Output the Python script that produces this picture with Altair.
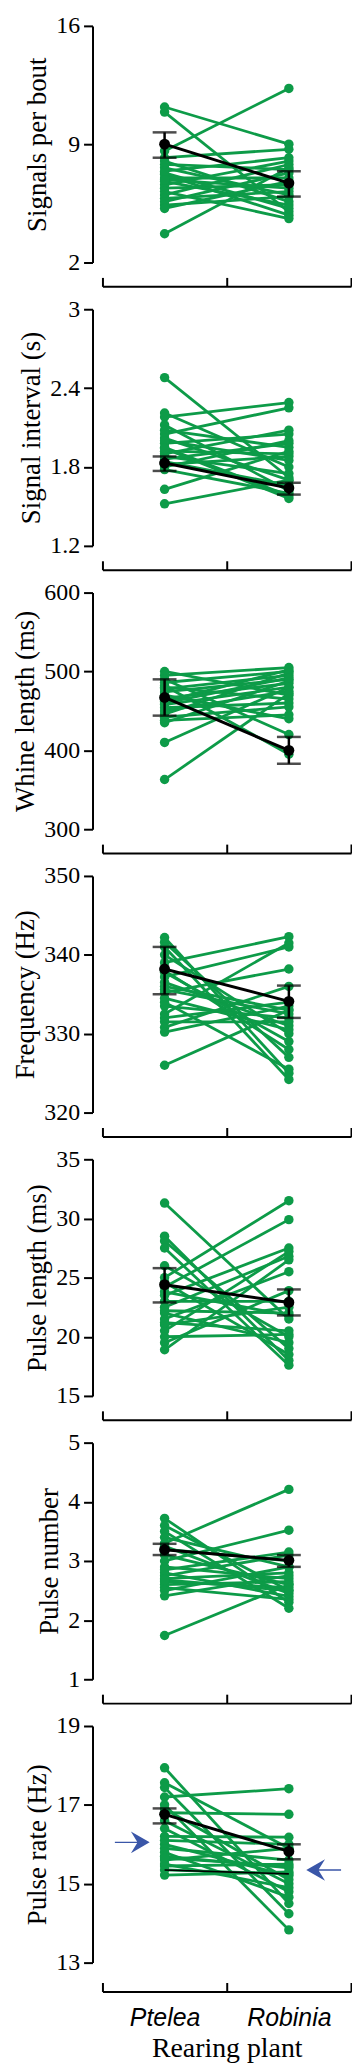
import altair as alt
import pandas as pd

GREEN = "#0d9b48"
BLUE = "#3a56a8"
PLANT_X = [0.5, 1.5]
PLANT_NAMES = ["Ptelea", "Robinia"]
X_TICKS = [0, 1, 2]

# ---- Panel 1: Signals per bout
p1_pt = [11.2, 10.9, 8.6, 8.2, 8.0, 7.8, 7.6, 7.4, 7.2, 7.0, 6.8, 6.6, 6.4, 6.2, 6.0, 5.8, 5.6, 5.4, 5.2, 3.7, 7.3, 6.9]
p1_rb = [9.0, 5.0, 12.3, 8.7, 5.6, 7.5, 6.0, 8.2, 4.8, 7.0, 5.4, 8.0, 6.6, 4.6, 7.8, 6.2, 7.3, 5.9, 6.8, 7.6, 5.2, 6.4]
p1_mean = [9.0, 6.7]
p1_lo = [8.2, 5.9]
p1_hi = [9.7, 7.4]

# ---- Panel 2: Signal interval (s)
p2_pt = [2.48, 2.21, 2.18, 2.12, 2.08, 2.05, 2.02, 1.98, 1.95, 1.92, 1.90, 1.88, 1.86, 1.84, 1.82, 1.80, 1.78, 1.63, 1.52, 2.00, 1.94]
p2_rb = [1.72, 1.80, 2.29, 1.62, 1.95, 2.25, 1.70, 2.05, 1.58, 1.90, 2.08, 1.75, 1.98, 1.66, 1.88, 2.00, 1.60, 1.92, 1.70, 1.85, 1.56]
p2_mean = [1.83, 1.64]
p2_lo = [1.77, 1.59]
p2_hi = [1.88, 1.68]

# ---- Panel 3: Whine length (ms)
p3_pt = [500, 495, 490, 486, 482, 478, 474, 470, 466, 462, 458, 454, 450, 446, 442, 438, 435, 410, 363, 480, 460]
p3_rb = [470, 505, 420, 500, 395, 495, 490, 440, 485, 502, 480, 460, 475, 498, 455, 445, 488, 480, 472, 465, 492]
p3_mean = [467, 400]
p3_lo = [444, 383]
p3_hi = [490, 417]

# ---- Panel 4: Frequency (Hz)
p4_pt = [342.2, 341.6, 341.0, 340.0, 339.0, 338.0, 337.2, 336.5, 336.0, 335.2, 334.5, 334.0, 333.5, 332.5, 332.0, 331.5, 330.8, 330.2, 326.0, 337.8, 335.6]
p4_rb = [325.0, 327.0, 324.2, 330.0, 342.3, 328.0, 341.0, 331.0, 333.0, 338.2, 330.5, 325.5, 332.0, 341.5, 334.0, 331.5, 336.0, 333.5, 333.0, 329.0, 332.5]
p4_mean = [338.2, 334.1]
p4_lo = [335.0, 332.0]
p4_hi = [341.0, 336.1]

# ---- Panel 5: Pulse length (ms)
p5_pt = [31.3, 28.5, 28.1, 27.5, 26.0, 25.0, 24.2, 23.5, 23.0, 22.5, 22.0, 21.5, 21.0, 20.5, 20.0, 19.5, 18.9, 24.6, 23.8, 22.2, 21.2]
p5_rb = [21.5, 18.0, 19.0, 17.6, 20.0, 31.5, 29.9, 27.5, 23.0, 26.8, 19.5, 25.5, 22.5, 27.2, 20.2, 23.9, 26.5, 18.5, 21.8, 22.0, 20.5]
p5_mean = [24.4, 22.9]
p5_lo = [22.9, 21.8]
p5_hi = [25.8, 24.0]

# ---- Panel 6: Pulse number
p6_pt = [3.72, 3.6, 3.5, 3.4, 3.3, 3.2, 3.1, 3.0, 2.9, 2.8, 2.75, 2.7, 2.65, 2.6, 2.55, 2.5, 2.41, 1.74, 3.25, 2.85, 2.68]
p6_rb = [2.3, 2.5, 2.2, 2.9, 4.21, 3.0, 2.6, 3.52, 2.7, 2.4, 3.1, 2.8, 2.55, 2.65, 2.35, 2.9, 2.75, 2.6, 2.45, 3.15, 2.5]
p6_mean = [3.19, 3.01]
p6_lo = [3.10, 2.90]
p6_hi = [3.29, 3.10]

# ---- Panel 7: Pulse rate (Hz)
p7_pt = [17.94, 17.56, 17.44, 17.2, 17.0, 16.8, 16.6, 16.4, 16.2, 16.0, 15.9, 15.8, 15.7, 15.6, 15.5, 15.45, 15.35, 15.22, 16.9, 16.1, 15.65]
p7_rb = [14.5, 15.9, 14.24, 17.41, 13.83, 16.76, 15.0, 14.8, 16.18, 15.2, 15.6, 14.66, 15.4, 15.9, 14.9, 15.5, 15.25, 15.3, 15.1, 16.0, 15.45]
p7_mean = [16.76, 15.82]
p7_lo = [16.53, 15.62]
p7_hi = [16.91, 16.0]
p7_black_pair = 16
arrow_x = [0.24, 1.78]
arrow_y = [16.05, 15.35]
arrow_angle = [0, 180]

panels = [
    dict(title="Signals per bout", pt=p1_pt, rb=p1_rb, mean=p1_mean, lo=p1_lo, hi=p1_hi, dom=[2, 16], ticks=[2, 9, 16], fmt="d"),
    dict(title="Signal interval (s)", pt=p2_pt, rb=p2_rb, mean=p2_mean, lo=p2_lo, hi=p2_hi, dom=[1.2, 3], ticks=[1.2, 1.8, 2.4, 3], fmt=".1~f"),
    dict(title="Whine length (ms)", pt=p3_pt, rb=p3_rb, mean=p3_mean, lo=p3_lo, hi=p3_hi, dom=[300, 600], ticks=[300, 400, 500, 600], fmt="d"),
    dict(title="Frequency (Hz)", pt=p4_pt, rb=p4_rb, mean=p4_mean, lo=p4_lo, hi=p4_hi, dom=[320, 350], ticks=[320, 330, 340, 350], fmt="d"),
    dict(title="Pulse length (ms)", pt=p5_pt, rb=p5_rb, mean=p5_mean, lo=p5_lo, hi=p5_hi, dom=[15, 35], ticks=[15, 20, 25, 30, 35], fmt="d"),
    dict(title="Pulse number", pt=p6_pt, rb=p6_rb, mean=p6_mean, lo=p6_lo, hi=p6_hi, dom=[1, 5], ticks=[1, 2, 3, 4, 5], fmt="d"),
    dict(title="Pulse rate (Hz)", pt=p7_pt, rb=p7_rb, mean=p7_mean, lo=p7_lo, hi=p7_hi, dom=[13, 19], ticks=[13, 15, 17, 19], fmt="d"),
]

W = 250
H = 238
ARROW_PATH = "M-1,-0.04 L0.28,-0.04 L-0.08,-0.62 L1,0 L-0.08,0.62 L0.28,0.04 L-1,0.04 Z"


def make_panel(p, last=False):
    n = len(p["pt"])
    rows = []
    for i in range(n):
        rows.append({"id": i, "x": PLANT_X[0], "v": p["pt"][i]})
        rows.append({"id": i, "x": PLANT_X[1], "v": p["rb"][i]})
    df = pd.DataFrame(rows)
    mdf = pd.DataFrame({"x": PLANT_X, "v": p["mean"], "lo": p["lo"], "hi": p["hi"]})

    xs = alt.Scale(domain=[0, 2], nice=False, zero=False)
    ys = alt.Scale(domain=p["dom"], nice=False, zero=False)
    yax = alt.Axis(values=p["ticks"], format=p["fmt"], title=p["title"], orient="left",
                   offset=10, tickSize=9, labelPadding=4, titlePadding=4)
    off = 29 if last else 24
    xax_top = alt.Axis(orient="top", offset=-(H + off), values=X_TICKS, labels=False,
                       title=None, tickSize=9)
    default_x_axis = None if last else xax_top

    def Y(field="v"):
        return alt.Y(f"{field}:Q", scale=ys, axis=yax)

    def X(axis="default"):
        if axis == "default":
            axis = default_x_axis
        return alt.X("x:Q", scale=xs, axis=axis)

    base = alt.Chart(df)
    lines = base.mark_line(color=GREEN, strokeWidth=2.8).encode(x=X(xax_top), y=Y(), detail="id:N")
    if last:
        ptsax = alt.Axis(orient="bottom", offset=off, values=PLANT_X, domain=False, ticks=False,
                         labelExpr="datum.value < 1 ? 'Ptelea' : 'Robinia'",
                         labelFont="Liberation Sans", labelFontStyle="italic", labelFontSize=25,
                         labelPadding=14, title="Rearing plant", titleFontSize=28, titlePadding=4)
        pts = base.mark_circle(color=GREEN, size=90, opacity=1).encode(x=X(ptsax), y=Y())
    else:
        pts = base.mark_circle(color=GREEN, size=90, opacity=1).encode(x=X(), y=Y())
    layers = [lines, pts]
    if last:
        blk = base.transform_filter(alt.datum.id == p7_black_pair).mark_line(
            color="black", strokeWidth=1.6).encode(x=X(), y=Y(), detail="id:N")
        layers.append(blk)

    mbase = alt.Chart(mdf)
    mline = mbase.mark_line(color="black", strokeWidth=3).encode(x=X(), y=Y())
    rule = mbase.mark_rule(color="black", strokeWidth=2.5).encode(x=X(), y=Y("lo"), y2="hi:Q")
    caps = mbase.transform_fold(["lo", "hi"], as_=["k", "c"]).mark_tick(
        color="black", thickness=2.5, size=24, orient="horizontal").encode(x=X(), y=Y("c"))
    mpts = mbase.mark_circle(color="black", size=120, opacity=1).encode(x=X(), y=Y())
    layers += [mline, rule, caps, mpts]

    if last:
        adf = pd.DataFrame({"x": arrow_x, "v": arrow_y, "a": arrow_angle})
        arrows = alt.Chart(adf).mark_point(shape=ARROW_PATH, filled=True, color=BLUE, size=1225,
                                           opacity=1, strokeWidth=0).encode(
            x=X(), y=Y(), angle=alt.Angle("a:Q", scale=None))
        layers.append(arrows)

    ch = alt.layer(*layers).properties(width=W, height=H)
    if last:
        ch = ch.resolve_axis(x="independent")
    return ch


charts = [make_panel(p, last=(i == len(panels) - 1)) for i, p in enumerate(panels)]

chart = alt.vconcat(*charts, spacing=47, bounds="flush").properties(
    padding={"left": 4, "top": 0, "right": 0, "bottom": 0}
).configure_view(stroke=None).configure_axis(
    grid=False,
    labelFont="Liberation Serif", labelFontSize=24, labelColor="black",
    titleFont="Liberation Serif", titleFontSize=27, titleFontWeight="normal", titleColor="black",
    domainColor="black", domainWidth=2, tickColor="black", tickWidth=2,
)

chart.save("out.html", embed_options={"renderer": "svg", "actions": False})
